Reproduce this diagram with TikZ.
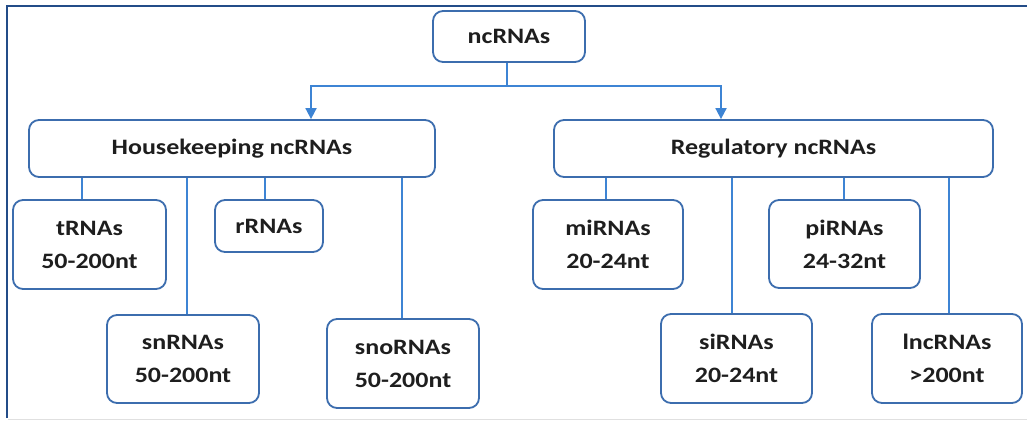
\documentclass[tikz,border=0pt]{standalone}
\usepackage{fontspec}
\setmainfont[FakeStretch=1.18]{Carlito}
\usetikzlibrary{arrows.meta,calc}
\definecolor{boxblue}{HTML}{3C6DAE}
\definecolor{linkblue}{HTML}{3D84D4}
\definecolor{frameblue}{HTML}{234C88}
\definecolor{txt}{HTML}{1E1E1E}
\tikzset{
  rbox/.style={draw=boxblue, line width=1.8pt, rounded corners=10pt, fill=white,
    text=txt, font=\fontsize{22}{33}\selectfont\bfseries, align=center,
    inner sep=0pt},
  link/.style={draw=linkblue, line width=1.8pt},
  arrowlink/.style={link, -{Triangle[width=11pt,length=11pt]}},
}
\begin{document}
\begin{tikzpicture}[x=1pt,y=-1pt]
\useasboundingbox (0,0) rectangle (1027,421);
% frame
\draw[frameblue, line width=2pt] (7,418) -- (7,6) -- (1027,6);
\draw[black!12, line width=1pt] (8,419) -- (1027,419);

% root
\node[rbox, minimum width=152pt, minimum height=51pt] (root) at (509,36.5) {ncRNAs};

% main categories
\node[rbox, minimum width=406pt, minimum height=57pt] (hk) at (232,148.5) {Housekeeping ncRNAs};
\node[rbox, minimum width=439pt, minimum height=57pt] (reg) at (773.5,148.5) {Regulatory ncRNAs};

% housekeeping classes
\node[rbox, minimum width=153pt, minimum height=89pt] (tr) at (89.5,244.5) {tRNAs\\50-200nt};
\node[rbox, minimum width=108pt, minimum height=52pt] (rr) at (269,226) {rRNAs};
\node[rbox, minimum width=152pt, minimum height=88pt] (sn) at (183,359) {snRNAs\\50-200nt};
\node[rbox, minimum width=152pt, minimum height=89pt] (sno) at (403,363.5) {snoRNAs\\50-200nt};

% regulatory classes
\node[rbox, minimum width=150pt, minimum height=89pt] (mi) at (608,244.5) {miRNAs\\20-24nt};
\node[rbox, minimum width=151pt, minimum height=88pt] (pi) at (844.5,244) {piRNAs\\24-32nt};
\node[rbox, minimum width=151pt, minimum height=89pt] (si) at (736.5,358.5) {siRNAs\\20-24nt};
\node[rbox, minimum width=150pt, minimum height=89pt] (lnc) at (947,358.5) {lncRNAs\\>200nt};

% split from the root
\coordinate (split) at (507,86);
\draw[link] (root.south -| split) -- (split);
\draw[arrowlink] (split) -| (hk.north -| 311,0);
\draw[arrowlink] (split) -| (reg.north -| 721,0);

% housekeeping branches
\draw[link] (hk.south -| 82,0) -- (tr.north -| 82,0);
\draw[link] (hk.south -| 265,0) -- (rr.north -| 265,0);
\draw[link] (hk.south -| 187,0) -- (sn.north -| 187,0);
\draw[link] (hk.south -| 402,0) -- (sno.north -| 402,0);

% regulatory branches
\draw[link] (reg.south -| 606,0) -- (mi.north -| 606,0);
\draw[link] (reg.south -| 844,0) -- (pi.north -| 844,0);
\draw[link] (reg.south -| 732,0) -- (si.north -| 732,0);
\draw[link] (reg.south -| 949,0) -- (lnc.north -| 949,0);
\end{tikzpicture}
\end{document}
